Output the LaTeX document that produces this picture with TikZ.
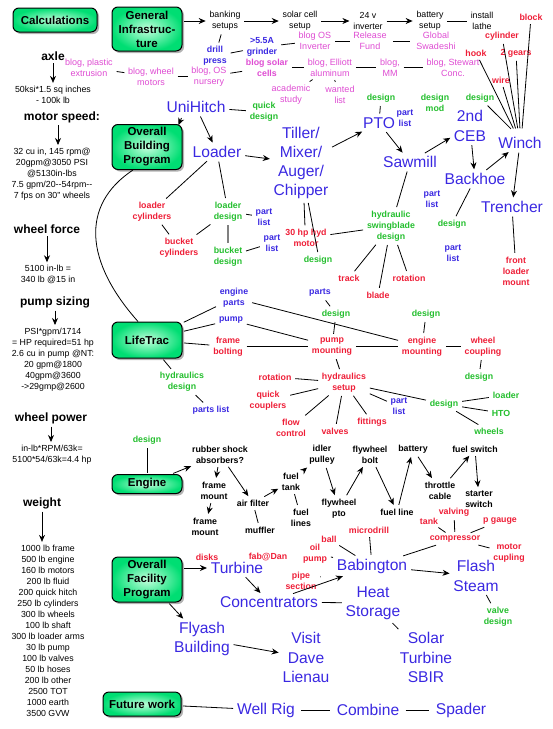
\documentclass[tikz,border=0pt]{standalone}
\usepackage{fontspec}
\setmainfont{Liberation Sans}
\usetikzlibrary{arrows.meta,shadows}

\definecolor{ablue}{RGB}{58,40,225}
\definecolor{ared}{RGB}{238,30,55}
\definecolor{agreen}{RGB}{35,190,45}
\definecolor{apink}{RGB}{222,75,210}
\definecolor{boxgreen}{RGB}{0,222,115}
\definecolor{boxlight}{RGB}{195,255,220}

\tikzset{
  progbox/.style={draw, line width=1pt, rounded corners=6pt, inner color=boxlight, outer color=boxgreen,
    drop shadow={shadow xshift=2pt, shadow yshift=-2pt, opacity=.6},
    font=\bfseries\fontsize{11.5}{14}\selectfont, align=center, minimum width=70pt, inner sep=2pt},
  headtxt/.style={font=\bfseries\fontsize{12}{14}\selectfont, inner sep=1pt},
  calctxt/.style={font=\fontsize{8.8}{11}\selectfont, align=center, inner sep=1pt},
  bigtxt/.style={text=ablue, font=\fontsize{15.6}{19.2}\selectfont, align=center, inner sep=2pt},
  redtxt/.style={text=ared, font=\bfseries\fontsize{8.8}{11}\selectfont, align=center, inner sep=2pt},
  greentxt/.style={text=agreen, font=\bfseries\fontsize{8.8}{11}\selectfont, align=center, inner sep=2pt},
  bluebold/.style={text=ablue, font=\bfseries\fontsize{8.8}{11}\selectfont, align=center, inner sep=2pt},
  pinktxt/.style={text=apink, font=\fontsize{9}{11}\selectfont, align=center, inner sep=2pt},
  pinkbold/.style={text=apink, font=\bfseries\fontsize{8.8}{11}\selectfont, align=center, inner sep=2pt},
  blacktxt/.style={font=\fontsize{8.8}{11}\selectfont, align=center, inner sep=2pt},
  blackbold/.style={font=\bfseries\fontsize{8.8}{11}\selectfont, align=center, inner sep=2pt},
  link/.style={shorten <=1.5pt, shorten >=1.5pt}
}

\begin{document}
\begin{tikzpicture}[>={Stealth[length=7pt,width=6pt]}, x=1pt, y=-1pt, line width=0.8pt]
  \useasboundingbox (0,0) rectangle (553,729);

  % program boxes
  \node[progbox, minimum width=84pt, minimum height=24pt] (calc) at (55,20) {Calculations};
  \node[progbox, minimum height=44pt] (geninf) at (147,29) {General\\Infrastruc-\\ture};
  \node[progbox, minimum height=45pt] (obp) at (147,147) {Overall\\Building\\Program};
  \node[progbox, minimum height=36pt] (lifetrac) at (147,340) {LifeTrac};
  \node[progbox, minimum height=19pt] (engine) at (147,484) {Engine};
  \node[progbox, minimum height=45pt] (ofp) at (147,579.5) {Overall\\Facility\\Program};
  \node[progbox, minimum width=78pt, minimum height=24pt] (future) at (142,704) {Future work};

  % calculations column
  \node[headtxt] (axle) at (53,56) {axle};
  \node[calctxt] (axleres) at (53,94.5) {50ksi*1.5 sq inches\\- 100k lb};
  \node[headtxt] (motsp) at (62,117) {motor speed:};
  \node[calctxt] (motspres) at (52,174) {32 cu in, 145 rpm@\\20gpm@3050 PSI\\@5130in-lbs\\7.5 gpm/20{-}{-}54rpm{-}{-}\\7 fps on 30" wheels};
  \node[headtxt] (wforce) at (47,229) {wheel force};
  \node[calctxt] (wforceres) at (48,274.5) {5100 in-lb =\\340 lb @15 in};
  \node[headtxt] (pumpsz) at (55,302) {pump sizing};
  \node[calctxt] (pumpszres) at (53,359.5) {PSI*gpm/1714\\= HP required=51 hp\\2.6 cu in pump @NT:\\20 gpm@1800\\40gpm@3600\\{-}>29gmp@2600};
  \node[headtxt] (wpower) at (51,418) {wheel power};
  \node[calctxt] (wpowerres) at (52,454.5) {in-lb*RPM/63k=\\5100*54/63k=4.4 hp};
  \node[headtxt] (weight) at (42,503) {weight};
  \node[calctxt] (weightres) at (48,630.5) {1000 lb frame\\500 lb engine\\160 lb motors\\200 lb fluid\\200 quick hitch\\250 lb cylinders\\300 lb wheels\\100 lb shaft\\300 lb loader arms\\30 lb pump\\100 lb valves\\50 lb hoses\\200 lb other\\2500 TOT\\1000 earth\\3500 GVW};

  \draw[->, link] (axle.south) -- (axle.south |- axleres.north);
  \draw[->, link] ([xshift=-4pt]motsp.south) -- ([xshift=-4pt]motsp.south |- motspres.north);
  \draw[->, link] (wforce.south) -- (wforce.south |- wforceres.north);
  \draw[->, link] (pumpsz.south) -- (pumpsz.south |- pumpszres.north);
  \draw[->, link] (wpower.south) -- (wpower.south |- wpowerres.north);
  \draw[->, link] (weight.south) -- (weight.south |- weightres.north);

  % general infrastructure
  \node[blacktxt] (banking) at (225,21) {banking\\setups};
  \node[blacktxt] (solarset) at (300,21) {solar cell\\setup};
  \node[blacktxt] (inverter) at (368,21) {24 v\\inverter};
  \node[blacktxt] (battset) at (430,21) {battery\\setup};
  \node[blacktxt] (lathe) at (482,21) {install\\lathe};
  \node[bluebold] (drill) at (215,56) {drill\\press};
  \node[bluebold] (grinder) at (262,47) {>5.5A\\grinder};
  \node[pinkbold] (blogsolar) at (267,67.5) {blog solar\\cells};
  \node[pinktxt] (bloginv) at (315,41) {blog OS\\Inverter};
  \node[pinktxt] (release) at (370,41) {Release\\Fund};
  \node[pinktxt] (swadeshi) at (436,41) {Global\\Swadeshi};
  \node[pinktxt] (plastic) at (89,67.5) {blog, plastic\\extrusion};
  \node[pinktxt] (wheelmot) at (151,76.5) {blog, wheel\\motors};
  \node[pinktxt] (nursery) at (209,76.5) {blog, OS\\nursery};
  \node[pinktxt] (elliott) at (330,67.5) {blog, Elliott\\aluminum};
  \node[pinktxt] (blogmm) at (390,67.5) {blog,\\MM};
  \node[pinktxt] (stewart) at (453,67.5) {blog, Stewart\\Conc.};
  \node[pinktxt] (academic) at (291,94.5) {academic\\study};
  \node[pinktxt] (wanted) at (340,94.5) {wanted\\list};

  \draw[->, link] (geninf.east |- banking.west) -- (banking.west);
  \draw[->, link] (banking) -- (solarset);
  \draw[->, link] (solarset) -- (inverter);
  \draw[->, link] (inverter) -- (battset);
  \draw[link] (battset) -- (lathe);
  \draw[link] (banking) -- (drill);
  \draw[link] (drill) -- (grinder);
  \draw[link] (grinder) -- (bloginv);
  \draw[link] (bloginv) -- (release);
  \draw[link, shorten <=4pt, shorten >=4pt] (release) -- (swadeshi);
  \draw[link] (plastic) -- (wheelmot);
  \draw[link] (wheelmot) -- (nursery);
  \draw[link] (nursery) -- (blogsolar);
  \draw[link] (blogsolar) -- (elliott);
  \draw[link] (elliott) -- (blogmm);
  \draw[link] (blogmm) -- (stewart);
  \draw[link] (elliott) -- (academic);
  \draw[link] (elliott) -- (wanted);

  % winch strands
  \node[redtxt] (block) at (531,17) {block};
  \node[redtxt] (cylinder) at (502,36) {cylinder};
  \node[redtxt] (hook) at (476,53) {hook};
  \node[redtxt] (gears) at (516,53) {2 gears};
  \node[redtxt] (wire) at (501,80) {wire};
  \node[greentxt] (winchdes) at (480,98) {design};
  \node[bigtxt] (winch) at (520,143) {Winch};
  \draw[link] (block) -- ([xshift=2pt, yshift=5pt]winch.north);
  \draw[link] (cylinder) -- ([xshift=-2pt, yshift=5pt]winch.north);
  \draw[link] (hook) -- ([xshift=-6pt, yshift=5pt]winch.north);
  \draw[link] (gears) -- ([xshift=0pt, yshift=5pt]winch.north);
  \draw[link] (wire) -- ([xshift=-4pt, yshift=5pt]winch.north);
  \draw[link] (winchdes) -- ([xshift=-8pt, yshift=5pt]winch.north);

  % building program
  \node[bigtxt] (unihitch) at (196,107) {UniHitch};
  \node[greentxt] (quickdes) at (264,112) {quick\\design};
  \node[bigtxt] (loader) at (217,152) {Loader};
  \node[bigtxt] (tiller) at (301,163) {Tiller/\\Mixer/\\Auger/\\Chipper};
  \node[bigtxt] (pto) at (379,123) {PTO};
  \node[greentxt] (ptodes) at (381,98) {design};
  \node[greentxt] (desmod) at (435,103) {design\\mod};
  \node[bluebold] (ptolist) at (405,118) {part\\list};
  \node[bigtxt] (sawmill) at (410,162) {Sawmill};
  \node[bigtxt] (ceb) at (470,126) {2nd\\CEB};
  \node[bigtxt] (backhoe) at (475,179) {Backhoe};
  \node[bigtxt] (trencher) at (512,207) {Trencher};
  \node[redtxt] (frontload) at (516,271) {front\\loader\\mount};
  \node[bluebold] (sawlist) at (432,199) {part\\list};
  \node[greentxt] (backdes) at (452,224) {design};
  \node[bluebold] (backlist) at (453,253) {part\\list};
  \node[greentxt] (swing) at (391,226) {hydraulic\\swingblade\\design};
  \node[redtxt] (hydmotor) at (306,238) {30 hp hyd\\motor};
  \node[greentxt] (tillerdes) at (318,260) {design};
  \node[redtxt] (track) at (349,278) {track};
  \node[redtxt] (blade) at (378,295) {blade};
  \node[redtxt] (swingrot) at (409,278) {rotation};
  \node[redtxt] (loadcyl) at (152,211.5) {loader\\cylinders};
  \node[greentxt] (loaddes) at (228,211.5) {loader\\design};
  \node[bluebold] (loadlist) at (264,217) {part\\list};
  \node[redtxt] (buckcyl) at (179,247.5) {bucket\\cylinders};
  \node[greentxt] (buckdes) at (228,256.5) {bucket\\design};
  \node[bluebold] (bucklist) at (272,243) {part\\list};

  \draw[->] ([xshift=-1pt, yshift=6pt]obp.north east) -- ([xshift=-4pt, yshift=-1pt]obp.north east);
  \draw[link] (unihitch) -- (quickdes);
  \draw[->, link] (unihitch) -- (loader);
  \draw[->, link] (loader) -- (tiller);
  \draw[->, link] (tiller) -- (pto);
  \draw[->, link] (pto) -- (sawmill);
  \draw[->, link] (sawmill) -- (ceb);
  \draw[->, link] (ceb) -- (backhoe);
  \draw[->, link] (backhoe) -- (winch);
  \draw[->, link] (winch) -- (trencher);
  \draw[link] (trencher) -- (frontload);
  \draw[link] (pto) -- (ptodes);
  \draw[link] (backhoe) -- (backdes);
  \draw[link] (sawmill) -- (swing);
  \draw[link] (hydmotor) -- (swing);
  \draw[link] ([xshift=3pt]tiller.south) -- ([xshift=-1pt]hydmotor.north);
  \draw[link] ([xshift=7pt]tiller.south) -- (tillerdes.north);
  \draw[link] (swing) -- (track);
  \draw[link] (swing) -- (blade);
  \draw[link] (swing) -- (swingrot);
  \draw[link] (loader) -- (loadcyl);
  \draw[link] (loader) -- (loaddes);
  \draw[link] (loadcyl) -- (buckcyl);
  \draw[link] (buckcyl) -- (loaddes);
  \draw[link, gray, line width=1.5pt] (loaddes) -- (buckdes);
  \draw[link] (loaddes) -- (loadlist);
  \draw[link] (buckdes) -- (bucklist);
  \draw ([xshift=-14pt]obp.south) .. controls (80,205) and (85,262) .. ([xshift=-9pt]lifetrac.north);

  % lifetrac
  \node[bluebold] (engparts) at (234,298) {engine\\parts};
  \node[bluebold] (pump) at (231,320) {pump};
  \node[redtxt] (framebolt) at (228,346.5) {frame\\bolting};
  \node[greentxt] (hyddes) at (182,382) {hydraulics\\design};
  \node[bluebold] (partslist) at (211,410) {parts list};
  \node[bluebold] (parts) at (320,293) {parts};
  \node[greentxt] (pumpmdes) at (336,314) {design};
  \node[redtxt] (pumpmount) at (332,346.5) {pump\\mounting};
  \node[greentxt] (engmdes) at (426,314) {design};
  \node[redtxt] (engmount) at (422,346.5) {engine\\mounting};
  \node[redtxt] (wheelcoup) at (483,346.5) {wheel\\coupling};
  \node[greentxt] (wheelcdes) at (479,377) {design};
  \node[redtxt] (hydsetup) at (344,382.5) {hydraulics\\setup};
  \node[redtxt] (hydrot) at (275,377) {rotation};
  \node[redtxt] (quickcoup) at (268,400.5) {quick\\couplers};
  \node[redtxt] (flowctl) at (291,427.5) {flow\\control};
  \node[redtxt] (valves) at (335,431) {valves};
  \node[redtxt] (fittings) at (372,422) {fittings};
  \node[bluebold] (setuplist) at (399,406.5) {part\\list};
  \node[greentxt] (setupdes) at (444,404) {design};
  \node[greentxt] (desloader) at (506,395) {loader};
  \node[greentxt] (deshto) at (501,413) {HTO};
  \node[greentxt] (deswheels) at (489,431) {wheels};

  \draw[link] (lifetrac) -- (engparts);
  \draw[link] (lifetrac) -- (pump);
  \draw[link] (lifetrac) -- (framebolt);
  \draw[link] (lifetrac) -- (hyddes);
  \draw[link] (hyddes) -- (partslist);
  \draw[link] (engparts) -- (engmount);
  \draw[link] (pump) -- (pumpmount);
  \draw[link] (framebolt) -- (pumpmount);
  \draw[link] (parts) -- (pumpmdes);
  \draw[link] (pumpmdes) -- (pumpmount);
  \draw[link] (engmdes) -- (engmount);
  \draw[link] (pumpmount) -- (engmount);
  \draw[link] (engmount) -- (wheelcoup);
  \draw[link] (wheelcoup) -- (wheelcdes);
  \draw[link] (pumpmount) -- (hydsetup);
  \draw[link] (hydrot) -- (hydsetup);
  \draw[link] (quickcoup) -- (hydsetup);
  \draw[link] (hydsetup) -- (flowctl);
  \draw[link] (hydsetup) -- (valves);
  \draw[link] (hydsetup) -- (fittings);
  \draw[link] (hydsetup) -- (setuplist);
  \draw[link] (hydsetup) -- (setupdes);
  \draw[link] (setupdes) -- (desloader);
  \draw[link] (setupdes) -- (deshto);
  \draw[link] (setupdes) -- (deswheels);

  % engine
  \node[greentxt] (engdes) at (147,440) {design};
  \node[blackbold] (rubber) at (220,454.5) {rubber shock\\absorbers?};
  \node[blackbold] (framem1) at (214,490.5) {frame\\mount};
  \node[blackbold] (framem2) at (205,526.5) {frame\\mount};
  \node[blackbold] (airfilt) at (253,503) {air filter};
  \node[blackbold] (muffler) at (260,530) {muffler};
  \node[blackbold] (fueltank) at (291,481.5) {fuel\\tank};
  \node[blackbold] (fuellines) at (301,517.5) {fuel\\lines};
  \node[blackbold] (idler) at (322,454.5) {idler\\pulley};
  \node[blackbold] (flypto) at (339,508.5) {flywheel\\pto};
  \node[blackbold] (flybolt) at (370,454.5) {flywheel\\bolt};
  \node[blackbold] (fuelline) at (397,512) {fuel line};
  \node[blackbold] (battery) at (413,449) {battery};
  \node[blackbold] (throttle) at (440,490.5) {throttle\\cable};
  \node[blackbold] (fuelsw) at (475,449) {fuel switch};
  \node[blackbold] (starter) at (479,499.5) {starter\\switch};

  \draw[link] (engdes) -- (engine);
  \draw[->, link] (engine) -- (rubber);
  \draw[->, link] (rubber) -- (framem1);
  \draw[->, link] (framem1) -- (framem2);
  \draw[->, link] (rubber) -- (airfilt);
  \draw[link] (airfilt) -- (muffler);
  \draw[->, link] (airfilt) -- (fueltank);
  \draw[link] (fueltank) -- (fuellines);
  \draw[->, link] (fueltank) -- (idler);
  \draw[->, link] (idler) -- (flypto);
  \draw[->, link] (flypto) -- (flybolt);
  \draw[->, link] (flybolt) -- (fuelline);
  \draw[->, link] (fuelline) -- (battery);
  \draw[->, link] (battery) -- (throttle);
  \draw[->, link] (throttle) -- (fuelsw);
  \draw[->, link] (fuelsw) -- (starter);

  % facility program
  \node[redtxt] (disks) at (207,557) {disks};
  \node[redtxt] (fabdan) at (268,557) {fab@Dan};
  \node[bigtxt] (turbine) at (237,568) {Turbine};
  \node[bigtxt] (concentr) at (269,602) {Concentrators};
  \node[bigtxt] (flyash) at (202,639) {Flyash\\Building};
  \node[bigtxt] (visit) at (306,657.5) {Visit\\Dave\\Lienau};
  \node[bigtxt] (babington) at (372,566) {Babington};
  \node[redtxt] (ball) at (329,539) {ball};
  \node[redtxt] (oilpump) at (315,553.5) {oil\\pump};
  \node[redtxt] (microdrill) at (369,530) {microdrill};
  \node[redtxt] (pipesec) at (301,581) {pipe\\section};
  \node[redtxt] (compressor) at (455,539) {compressor};
  \node[redtxt] (comptank) at (429,521) {tank};
  \node[redtxt] (valving) at (454,512) {valving};
  \node[redtxt] (pgauge) at (500,521) {p gauge};
  \node[redtxt] (motorcup) at (509,553) {motor\\cupling};
  \node[bigtxt] (flash) at (476,576) {Flash\\Steam};
  \node[greentxt] (valvedes) at (498,616.5) {valve\\design};
  \node[bigtxt] (heat) at (373,603) {Heat\\Storage};
  \node[bigtxt] (solar) at (426,657.5) {Solar\\Turbine\\SBIR};
  \node[bigtxt] (wellrig) at (266,710) {Well Rig};
  \node[bigtxt] (combine) at (368,710) {Combine};
  \node[bigtxt] (spader) at (461,710) {Spader};

  \draw[->, link] (ofp.east |- turbine) -- (turbine);
  \draw[->, link] (turbine) -- (concentr);
  \draw[->, link] (ofp) -- (flyash);
  \draw[->, link] (flyash) -- (visit);
  \draw[->, link] (concentr) -- (babington);
  \draw[link] (concentr) -- (heat);
  \draw[link] (heat) -- (solar);
  \draw[link] (ball) -- (babington);
  \draw[link] (oilpump) -- (babington);
  \draw[link] (microdrill) -- (babington);
  \draw[link, shorten >=14pt] (pipesec) -- (babington);
  \draw[link] (compressor) -- (babington);
  \draw[link] (comptank) -- (compressor);
  \draw[link] (valving) -- (compressor);
  \draw[link] (pgauge) -- (compressor);
  \draw[link] (motorcup) -- (compressor);
  \draw[->, link] (babington) -- (flash);
  \draw[link] (flash) -- (valvedes);
  \draw[link] (future) -- (wellrig);
  \draw[link, shorten <=4pt, shorten >=4pt] (wellrig) -- (combine);
  \draw[link, shorten <=4pt, shorten >=4pt] (combine) -- (spader);
\end{tikzpicture}
\end{document}
